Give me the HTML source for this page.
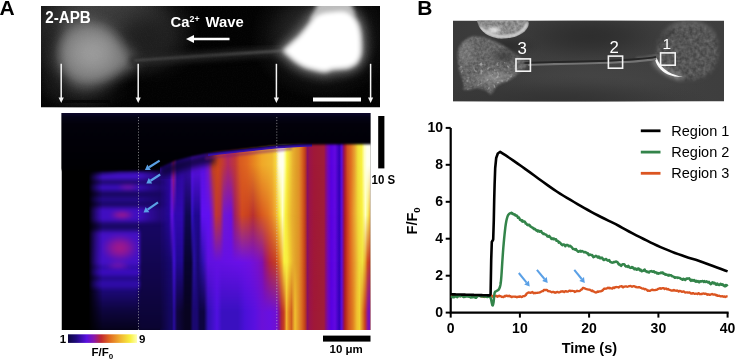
<!DOCTYPE html>
<html><head><meta charset="utf-8"><title>Figure</title>
<style>html,body{margin:0;padding:0;background:#fff;width:735px;height:359px;overflow:hidden;font-family:"Liberation Sans",sans-serif}svg{display:block}svg{will-change:transform}</style>
</head><body><svg width="735" height="359" viewBox="0 0 735 359"><defs><linearGradient id="r1" gradientUnits="userSpaceOnUse" x1="160" y1="0" x2="370.5" y2="0"><stop offset="0.0000" stop-color="#5010d0"/><stop offset="0.0143" stop-color="#3008a0"/><stop offset="0.0475" stop-color="#3008a0"/><stop offset="0.0570" stop-color="#8018a0"/><stop offset="0.0641" stop-color="#a01870"/><stop offset="0.0713" stop-color="#8018a0"/><stop offset="0.0808" stop-color="#2a0890"/><stop offset="0.1425" stop-color="#3a0cb0"/><stop offset="0.1520" stop-color="#5a10e0"/><stop offset="0.2090" stop-color="#5a10e0"/><stop offset="0.2280" stop-color="#7a18c0"/><stop offset="0.2518" stop-color="#c04020"/><stop offset="0.2755" stop-color="#d04818"/><stop offset="0.2993" stop-color="#c03838"/><stop offset="0.3230" stop-color="#b02860"/><stop offset="0.3563" stop-color="#c03838"/><stop offset="0.3800" stop-color="#d85a20"/><stop offset="0.4133" stop-color="#e06820"/><stop offset="0.4513" stop-color="#e88a20"/><stop offset="0.4846" stop-color="#f0a828"/><stop offset="0.5321" stop-color="#f0b830"/><stop offset="0.5511" stop-color="#f8d840"/><stop offset="0.5606" stop-color="#fff8c0"/><stop offset="0.5701" stop-color="#fffff0"/><stop offset="0.5843" stop-color="#fffff0"/><stop offset="0.5938" stop-color="#ffffa0"/><stop offset="0.6033" stop-color="#f8f040"/><stop offset="0.6176" stop-color="#f0d038"/><stop offset="0.6318" stop-color="#e8b030"/><stop offset="0.6461" stop-color="#e0a028"/><stop offset="0.6603" stop-color="#e09028"/><stop offset="0.6746" stop-color="#d86820"/><stop offset="0.6888" stop-color="#c04018"/><stop offset="0.7007" stop-color="#8a1060"/><stop offset="0.7126" stop-color="#9a1448"/><stop offset="0.7316" stop-color="#a01838"/><stop offset="0.7601" stop-color="#a01c34"/><stop offset="0.7791" stop-color="#a01c3c"/><stop offset="0.7862" stop-color="#8a1070"/><stop offset="0.7981" stop-color="#7008b8"/><stop offset="0.8124" stop-color="#5800e0"/><stop offset="0.8314" stop-color="#6208e0"/><stop offset="0.8518" stop-color="#3400b8"/><stop offset="0.8637" stop-color="#6010d8"/><stop offset="0.8717" stop-color="#8a1070"/><stop offset="0.8789" stop-color="#b02030"/><stop offset="0.8907" stop-color="#d05020"/><stop offset="0.9074" stop-color="#e07020"/><stop offset="0.9240" stop-color="#e8a030"/><stop offset="0.9406" stop-color="#f0e038"/><stop offset="0.9572" stop-color="#f8f040"/><stop offset="0.9715" stop-color="#ffffc0"/><stop offset="0.9834" stop-color="#fffff0"/><stop offset="1.0000" stop-color="#fffff0"/></linearGradient><radialGradient id="g44"><stop offset="0" stop-color="#444" stop-opacity="1.000"/><stop offset="0.2" stop-color="#444" stop-opacity="0.920"/><stop offset="0.4" stop-color="#444" stop-opacity="0.720"/><stop offset="0.6" stop-color="#444" stop-opacity="0.440"/><stop offset="0.8" stop-color="#444" stop-opacity="0.160"/><stop offset="1" stop-color="#444" stop-opacity="0.000"/></radialGradient><radialGradient id="g3a"><stop offset="0" stop-color="#3a3a3a" stop-opacity="1.000"/><stop offset="0.2" stop-color="#3a3a3a" stop-opacity="0.920"/><stop offset="0.4" stop-color="#3a3a3a" stop-opacity="0.720"/><stop offset="0.6" stop-color="#3a3a3a" stop-opacity="0.440"/><stop offset="0.8" stop-color="#3a3a3a" stop-opacity="0.160"/><stop offset="1" stop-color="#3a3a3a" stop-opacity="0.000"/></radialGradient><radialGradient id="g1e"><stop offset="0" stop-color="#1e1e1e" stop-opacity="1.000"/><stop offset="0.2" stop-color="#1e1e1e" stop-opacity="0.920"/><stop offset="0.4" stop-color="#1e1e1e" stop-opacity="0.720"/><stop offset="0.6" stop-color="#1e1e1e" stop-opacity="0.440"/><stop offset="0.8" stop-color="#1e1e1e" stop-opacity="0.160"/><stop offset="1" stop-color="#1e1e1e" stop-opacity="0.000"/></radialGradient><radialGradient id="g20"><stop offset="0" stop-color="#202020" stop-opacity="1.000"/><stop offset="0.2" stop-color="#202020" stop-opacity="0.920"/><stop offset="0.4" stop-color="#202020" stop-opacity="0.720"/><stop offset="0.6" stop-color="#202020" stop-opacity="0.440"/><stop offset="0.8" stop-color="#202020" stop-opacity="0.160"/><stop offset="1" stop-color="#202020" stop-opacity="0.000"/></radialGradient><radialGradient id="g38"><stop offset="0" stop-color="#383838" stop-opacity="1.000"/><stop offset="0.2" stop-color="#383838" stop-opacity="0.920"/><stop offset="0.4" stop-color="#383838" stop-opacity="0.720"/><stop offset="0.6" stop-color="#383838" stop-opacity="0.440"/><stop offset="0.8" stop-color="#383838" stop-opacity="0.160"/><stop offset="1" stop-color="#383838" stop-opacity="0.000"/></radialGradient><radialGradient id="g8e"><stop offset="0" stop-color="#8e8e8e" stop-opacity="1.000"/><stop offset="0.2" stop-color="#8e8e8e" stop-opacity="0.920"/><stop offset="0.4" stop-color="#8e8e8e" stop-opacity="0.720"/><stop offset="0.6" stop-color="#8e8e8e" stop-opacity="0.440"/><stop offset="0.8" stop-color="#8e8e8e" stop-opacity="0.160"/><stop offset="1" stop-color="#8e8e8e" stop-opacity="0.000"/></radialGradient><radialGradient id="g44b"><stop offset="0" stop-color="#444" stop-opacity="1.000"/><stop offset="0.2" stop-color="#444" stop-opacity="0.920"/><stop offset="0.4" stop-color="#444" stop-opacity="0.720"/><stop offset="0.6" stop-color="#444" stop-opacity="0.440"/><stop offset="0.8" stop-color="#444" stop-opacity="0.160"/><stop offset="1" stop-color="#444" stop-opacity="0.000"/></radialGradient><radialGradient id="gmag"><stop offset="0" stop-color="#a0188a" stop-opacity="1.000"/><stop offset="0.2" stop-color="#a0188a" stop-opacity="0.920"/><stop offset="0.4" stop-color="#a0188a" stop-opacity="0.720"/><stop offset="0.6" stop-color="#a0188a" stop-opacity="0.440"/><stop offset="0.8" stop-color="#a0188a" stop-opacity="0.160"/><stop offset="1" stop-color="#a0188a" stop-opacity="0.000"/></radialGradient><radialGradient id="g9a"><stop offset="0" stop-color="#9a9a9a" stop-opacity="1.000"/><stop offset="0.2" stop-color="#9a9a9a" stop-opacity="0.920"/><stop offset="0.4" stop-color="#9a9a9a" stop-opacity="0.720"/><stop offset="0.6" stop-color="#9a9a9a" stop-opacity="0.440"/><stop offset="0.8" stop-color="#9a9a9a" stop-opacity="0.160"/><stop offset="1" stop-color="#9a9a9a" stop-opacity="0.000"/></radialGradient><radialGradient id="gb0"><stop offset="0" stop-color="#b0b0b0" stop-opacity="1.000"/><stop offset="0.2" stop-color="#b0b0b0" stop-opacity="0.920"/><stop offset="0.4" stop-color="#b0b0b0" stop-opacity="0.720"/><stop offset="0.6" stop-color="#b0b0b0" stop-opacity="0.440"/><stop offset="0.8" stop-color="#b0b0b0" stop-opacity="0.160"/><stop offset="1" stop-color="#b0b0b0" stop-opacity="0.000"/></radialGradient><radialGradient id="g4e"><stop offset="0" stop-color="#4e4e4e" stop-opacity="1.000"/><stop offset="0.2" stop-color="#4e4e4e" stop-opacity="0.920"/><stop offset="0.4" stop-color="#4e4e4e" stop-opacity="0.720"/><stop offset="0.6" stop-color="#4e4e4e" stop-opacity="0.440"/><stop offset="0.8" stop-color="#4e4e4e" stop-opacity="0.160"/><stop offset="1" stop-color="#4e4e4e" stop-opacity="0.000"/></radialGradient><radialGradient id="g37"><stop offset="0" stop-color="#373737" stop-opacity="1.000"/><stop offset="0.2" stop-color="#373737" stop-opacity="0.920"/><stop offset="0.4" stop-color="#373737" stop-opacity="0.720"/><stop offset="0.6" stop-color="#373737" stop-opacity="0.440"/><stop offset="0.8" stop-color="#373737" stop-opacity="0.160"/><stop offset="1" stop-color="#373737" stop-opacity="0.000"/></radialGradient><radialGradient id="g33"><stop offset="0" stop-color="#333" stop-opacity="1.000"/><stop offset="0.2" stop-color="#333" stop-opacity="0.920"/><stop offset="0.4" stop-color="#333" stop-opacity="0.720"/><stop offset="0.6" stop-color="#333" stop-opacity="0.440"/><stop offset="0.8" stop-color="#333" stop-opacity="0.160"/><stop offset="1" stop-color="#333" stop-opacity="0.000"/></radialGradient><radialGradient id="g2e"><stop offset="0" stop-color="#2e2e2e" stop-opacity="1.000"/><stop offset="0.2" stop-color="#2e2e2e" stop-opacity="0.920"/><stop offset="0.4" stop-color="#2e2e2e" stop-opacity="0.720"/><stop offset="0.6" stop-color="#2e2e2e" stop-opacity="0.440"/><stop offset="0.8" stop-color="#2e2e2e" stop-opacity="0.160"/><stop offset="1" stop-color="#2e2e2e" stop-opacity="0.000"/></radialGradient><radialGradient id="gfff"><stop offset="0" stop-color="#fff" stop-opacity="1.000"/><stop offset="0.2" stop-color="#fff" stop-opacity="0.920"/><stop offset="0.4" stop-color="#fff" stop-opacity="0.720"/><stop offset="0.6" stop-color="#fff" stop-opacity="0.440"/><stop offset="0.8" stop-color="#fff" stop-opacity="0.160"/><stop offset="1" stop-color="#fff" stop-opacity="0.000"/></radialGradient><radialGradient id="g55"><stop offset="0" stop-color="#555" stop-opacity="1.000"/><stop offset="0.2" stop-color="#555" stop-opacity="0.920"/><stop offset="0.4" stop-color="#555" stop-opacity="0.720"/><stop offset="0.6" stop-color="#555" stop-opacity="0.440"/><stop offset="0.8" stop-color="#555" stop-opacity="0.160"/><stop offset="1" stop-color="#555" stop-opacity="0.000"/></radialGradient><linearGradient id="r2" gradientUnits="userSpaceOnUse" x1="160" y1="0" x2="370.5" y2="0"><stop offset="0.0000" stop-color="#4a10d0"/><stop offset="0.0143" stop-color="#2808a0"/><stop offset="0.0428" stop-color="#2808a0"/><stop offset="0.0570" stop-color="#6010e0"/><stop offset="0.0713" stop-color="#3008b0"/><stop offset="0.1045" stop-color="#3008b0"/><stop offset="0.1235" stop-color="#100850"/><stop offset="0.1425" stop-color="#100850"/><stop offset="0.1520" stop-color="#3010c0"/><stop offset="0.1663" stop-color="#200890"/><stop offset="0.1853" stop-color="#200890"/><stop offset="0.1995" stop-color="#6010f0"/><stop offset="0.2328" stop-color="#6010f0"/><stop offset="0.2470" stop-color="#8018c0"/><stop offset="0.2660" stop-color="#c03830"/><stop offset="0.2850" stop-color="#b83040"/><stop offset="0.3040" stop-color="#7018d0"/><stop offset="0.3373" stop-color="#6a10e0"/><stop offset="0.3563" stop-color="#a02060"/><stop offset="0.3895" stop-color="#d04820"/><stop offset="0.4181" stop-color="#c84020"/><stop offset="0.4418" stop-color="#b83030"/><stop offset="0.4656" stop-color="#c84820"/><stop offset="0.4846" stop-color="#d85820"/><stop offset="0.5131" stop-color="#e07020"/><stop offset="0.5321" stop-color="#e88828"/><stop offset="0.5511" stop-color="#f0b030"/><stop offset="0.5677" stop-color="#f8f040"/><stop offset="0.5819" stop-color="#ffffc0"/><stop offset="0.5962" stop-color="#f8f040"/><stop offset="0.6105" stop-color="#f0d030"/><stop offset="0.6271" stop-color="#e8b030"/><stop offset="0.6461" stop-color="#e0a028"/><stop offset="0.6603" stop-color="#e09028"/><stop offset="0.6746" stop-color="#d86820"/><stop offset="0.6888" stop-color="#c04018"/><stop offset="0.7007" stop-color="#8a1060"/><stop offset="0.7126" stop-color="#9a1448"/><stop offset="0.7316" stop-color="#a01838"/><stop offset="0.7601" stop-color="#a01c34"/><stop offset="0.7791" stop-color="#a01c3c"/><stop offset="0.7862" stop-color="#8a1070"/><stop offset="0.7981" stop-color="#7008b8"/><stop offset="0.8124" stop-color="#5800e0"/><stop offset="0.8314" stop-color="#6208e0"/><stop offset="0.8518" stop-color="#3400b8"/><stop offset="0.8637" stop-color="#6010d8"/><stop offset="0.8717" stop-color="#8a1070"/><stop offset="0.8789" stop-color="#b02020"/><stop offset="0.8907" stop-color="#d04020"/><stop offset="0.9050" stop-color="#e07020"/><stop offset="0.9216" stop-color="#e8a030"/><stop offset="0.9406" stop-color="#f0d838"/><stop offset="0.9596" stop-color="#f8f040"/><stop offset="0.9762" stop-color="#ffffc0"/><stop offset="0.9881" stop-color="#f8f060"/><stop offset="1.0000" stop-color="#e8a030"/></linearGradient><linearGradient id="r3" gradientUnits="userSpaceOnUse" x1="160" y1="0" x2="370.5" y2="0"><stop offset="0.0000" stop-color="#2a0aa0"/><stop offset="0.0143" stop-color="#180870"/><stop offset="0.0523" stop-color="#180870"/><stop offset="0.0665" stop-color="#4010d0"/><stop offset="0.0808" stop-color="#200890"/><stop offset="0.1045" stop-color="#200890"/><stop offset="0.1188" stop-color="#080430"/><stop offset="0.1473" stop-color="#080430"/><stop offset="0.1615" stop-color="#2810a0"/><stop offset="0.1805" stop-color="#180870"/><stop offset="0.2043" stop-color="#3010b0"/><stop offset="0.2280" stop-color="#6010e0"/><stop offset="0.3800" stop-color="#6a10e8"/><stop offset="0.4276" stop-color="#7010e0"/><stop offset="0.4656" stop-color="#7a10c8"/><stop offset="0.4846" stop-color="#8010b0"/><stop offset="0.4988" stop-color="#9a1478"/><stop offset="0.5226" stop-color="#b82838"/><stop offset="0.5511" stop-color="#c84020"/><stop offset="0.5653" stop-color="#e07020"/><stop offset="0.5796" stop-color="#f0b030"/><stop offset="0.5891" stop-color="#f8f040"/><stop offset="0.6033" stop-color="#f8f040"/><stop offset="0.6176" stop-color="#f0d030"/><stop offset="0.6318" stop-color="#e8b030"/><stop offset="0.6461" stop-color="#e0a028"/><stop offset="0.6603" stop-color="#e09028"/><stop offset="0.6746" stop-color="#d86820"/><stop offset="0.6888" stop-color="#c04018"/><stop offset="0.7007" stop-color="#8a1060"/><stop offset="0.7126" stop-color="#9a1448"/><stop offset="0.7316" stop-color="#a01838"/><stop offset="0.7601" stop-color="#a01c34"/><stop offset="0.7791" stop-color="#a01c3c"/><stop offset="0.7862" stop-color="#8a1070"/><stop offset="0.7981" stop-color="#7008b8"/><stop offset="0.8124" stop-color="#5800e0"/><stop offset="0.8314" stop-color="#6208e0"/><stop offset="0.8518" stop-color="#3400b8"/><stop offset="0.8637" stop-color="#6010d8"/><stop offset="0.8717" stop-color="#8a1070"/><stop offset="0.8789" stop-color="#b02020"/><stop offset="0.8907" stop-color="#d04020"/><stop offset="0.9074" stop-color="#e07020"/><stop offset="0.9264" stop-color="#e8a030"/><stop offset="0.9454" stop-color="#f0d838"/><stop offset="0.9620" stop-color="#f0e040"/><stop offset="0.9739" stop-color="#e8b030"/><stop offset="0.9857" stop-color="#d05020"/><stop offset="1.0000" stop-color="#b02838"/></linearGradient><linearGradient id="r4" gradientUnits="userSpaceOnUse" x1="160" y1="0" x2="370.5" y2="0"><stop offset="0.0000" stop-color="#140860"/><stop offset="0.0570" stop-color="#140860"/><stop offset="0.0665" stop-color="#2a0ca0"/><stop offset="0.0808" stop-color="#100640"/><stop offset="0.1188" stop-color="#080320"/><stop offset="0.1425" stop-color="#080320"/><stop offset="0.1568" stop-color="#1a0870"/><stop offset="0.1758" stop-color="#1a0870"/><stop offset="0.1900" stop-color="#0c0440"/><stop offset="0.2090" stop-color="#0c0440"/><stop offset="0.2280" stop-color="#3010b0"/><stop offset="0.2708" stop-color="#5010e0"/><stop offset="0.2945" stop-color="#3a10c0"/><stop offset="0.3705" stop-color="#3a10c0"/><stop offset="0.4038" stop-color="#4a10d8"/><stop offset="0.4513" stop-color="#5a10e0"/><stop offset="0.4846" stop-color="#6a10d8"/><stop offset="0.5226" stop-color="#6810e0"/><stop offset="0.5558" stop-color="#7010d0"/><stop offset="0.5653" stop-color="#8a1090"/><stop offset="0.5772" stop-color="#b02838"/><stop offset="0.5891" stop-color="#c84020"/><stop offset="0.6010" stop-color="#f0b030"/><stop offset="0.6128" stop-color="#e08020"/><stop offset="0.6247" stop-color="#d06020"/><stop offset="0.6413" stop-color="#f0c030"/><stop offset="0.6603" stop-color="#e09028"/><stop offset="0.6746" stop-color="#d86820"/><stop offset="0.6888" stop-color="#c04018"/><stop offset="0.7007" stop-color="#8a1060"/><stop offset="0.7126" stop-color="#9a1448"/><stop offset="0.7316" stop-color="#a01838"/><stop offset="0.7601" stop-color="#a01c34"/><stop offset="0.7791" stop-color="#a01c3c"/><stop offset="0.7862" stop-color="#8a1070"/><stop offset="0.7981" stop-color="#7008b8"/><stop offset="0.8124" stop-color="#5800e0"/><stop offset="0.8314" stop-color="#6208e0"/><stop offset="0.8518" stop-color="#3400b8"/><stop offset="0.8637" stop-color="#6010d8"/><stop offset="0.8717" stop-color="#8a1070"/><stop offset="0.8789" stop-color="#b02020"/><stop offset="0.8955" stop-color="#d05020"/><stop offset="0.9169" stop-color="#e08020"/><stop offset="0.9359" stop-color="#f0c030"/><stop offset="0.9477" stop-color="#f0d030"/><stop offset="0.9596" stop-color="#e09028"/><stop offset="0.9739" stop-color="#c84020"/><stop offset="0.9881" stop-color="#8010b0"/><stop offset="1.0000" stop-color="#7010c0"/></linearGradient><linearGradient id="m2g" gradientUnits="userSpaceOnUse" x1="0" y1="165" x2="0" y2="215"><stop offset="0" stop-color="#000"/><stop offset="1" stop-color="#fff"/></linearGradient><mask id="m2" maskUnits="userSpaceOnUse" x="0" y="0" width="735" height="359"><rect x="0" y="0" width="735" height="359" fill="url(#m2g)"/></mask><linearGradient id="m3g" gradientUnits="userSpaceOnUse" x1="0" y1="215" x2="0" y2="262"><stop offset="0" stop-color="#000"/><stop offset="1" stop-color="#fff"/></linearGradient><mask id="m3" maskUnits="userSpaceOnUse" x="0" y="0" width="735" height="359"><rect x="0" y="0" width="735" height="359" fill="url(#m3g)"/></mask><linearGradient id="m4g" gradientUnits="userSpaceOnUse" x1="0" y1="262" x2="0" y2="312"><stop offset="0" stop-color="#000"/><stop offset="1" stop-color="#fff"/></linearGradient><mask id="m4" maskUnits="userSpaceOnUse" x="0" y="0" width="735" height="359"><rect x="0" y="0" width="735" height="359" fill="url(#m4g)"/></mask><filter id="b1" color-interpolation-filters="sRGB" x="-20%" y="-20%" width="140%" height="140%"><feGaussianBlur stdDeviation="1"/></filter><filter id="b2" color-interpolation-filters="sRGB" x="-30%" y="-30%" width="160%" height="160%"><feGaussianBlur stdDeviation="2"/></filter><filter id="b3" color-interpolation-filters="sRGB" x="-50%" y="-50%" width="200%" height="200%"><feGaussianBlur stdDeviation="3"/></filter><filter id="b5" color-interpolation-filters="sRGB" x="-80%" y="-80%" width="260%" height="260%"><feGaussianBlur stdDeviation="5"/></filter><filter id="b8" color-interpolation-filters="sRGB" x="-100%" y="-100%" width="300%" height="300%"><feGaussianBlur stdDeviation="8"/></filter><filter id="b12" color-interpolation-filters="sRGB" x="-150%" y="-150%" width="400%" height="400%"><feGaussianBlur stdDeviation="12"/></filter><filter id="b05" color-interpolation-filters="sRGB" x="-20%" y="-20%" width="140%" height="140%"><feGaussianBlur stdDeviation="0.5"/></filter><filter id="bl" color-interpolation-filters="sRGB" x="-20%" y="-20%" width="140%" height="140%"><feGaussianBlur stdDeviation="1.5 2.2"/></filter><linearGradient id="lmg" gradientUnits="userSpaceOnUse" x1="93" y1="0" x2="106" y2="0"><stop offset="0" stop-color="#000"/><stop offset="1" stop-color="#fff"/></linearGradient><mask id="lmask" maskUnits="userSpaceOnUse" x="0" y="0" width="735" height="359"><rect x="0" y="0" width="735" height="359" fill="url(#lmg)"/></mask><filter id="grain" x="0" y="0" width="100%" height="100%" color-interpolation-filters="sRGB"><feTurbulence type="fractalNoise" baseFrequency="0.8" numOctaves="1" seed="4"/><feColorMatrix type="matrix" values="0 0 0 0 1  0 0 0 0 1  0 0 0 0 1  1 0 0 0 -0.3"/></filter><linearGradient id="lmgA" gradientUnits="userSpaceOnUse" x1="86" y1="0" x2="170" y2="0"><stop offset="0.03" stop-color="#000"/><stop offset="0.1" stop-color="#666"/><stop offset="0.2" stop-color="#fff"/><stop offset="0.88" stop-color="#fff"/><stop offset="1" stop-color="#000"/></linearGradient><mask id="lmaskA" maskUnits="userSpaceOnUse" x="0" y="0" width="735" height="359"><rect x="0" y="0" width="735" height="359" fill="url(#lmgA)"/></mask><linearGradient id="lmgB" gradientUnits="userSpaceOnUse" x1="86" y1="0" x2="170" y2="0"><stop offset="0.03" stop-color="#000"/><stop offset="0.1" stop-color="#666"/><stop offset="0.2" stop-color="#fff"/><stop offset="0.62" stop-color="#fff"/><stop offset="0.75" stop-color="#999"/><stop offset="1" stop-color="#000"/></linearGradient><mask id="lmaskB" maskUnits="userSpaceOnUse" x="0" y="0" width="735" height="359"><rect x="0" y="0" width="735" height="359" fill="url(#lmgB)"/></mask><linearGradient id="lbase" gradientUnits="userSpaceOnUse" x1="0" y1="171" x2="0" y2="332"><stop offset="0" stop-color="#160658"/><stop offset="0.37" stop-color="#1a0868"/><stop offset="0.58" stop-color="#240a90"/><stop offset="0.74" stop-color="#1c0878"/><stop offset="0.86" stop-color="#0e0540"/><stop offset="1" stop-color="#050218"/></linearGradient><linearGradient id="lbase2" gradientUnits="userSpaceOnUse" x1="0" y1="171" x2="0" y2="332"><stop offset="0" stop-color="#180660"/><stop offset="0.37" stop-color="#160660"/><stop offset="1" stop-color="#0a0430"/></linearGradient><linearGradient id="dbg" x1="0" y1="0" x2="1" y2="0"><stop offset="0" stop-color="#3a3a3a"/><stop offset="0.5" stop-color="#424242"/><stop offset="1" stop-color="#3e3e3e"/></linearGradient><filter id="tex" x="0" y="0" width="100%" height="100%" color-interpolation-filters="sRGB"><feTurbulence type="fractalNoise" baseFrequency="0.35" numOctaves="2" seed="7"/><feColorMatrix type="matrix" values="1.2 0 0 0 -0.22  1.2 0 0 0 -0.22  1.2 0 0 0 -0.22  0 0 0 0 1"/></filter><filter id="tex2" x="0" y="0" width="100%" height="100%" color-interpolation-filters="sRGB"><feTurbulence type="fractalNoise" baseFrequency="0.28" numOctaves="2" seed="13"/><feColorMatrix type="matrix" values="1.1 0 0 0 -0.27  1.1 0 0 0 -0.27  1.1 0 0 0 -0.27  0 0 0 0 1"/></filter><linearGradient id="ktop" gradientUnits="userSpaceOnUse" x1="0" y1="113" x2="0" y2="170"><stop offset="0" stop-color="#0e0830"/><stop offset="0.06" stop-color="#050416"/><stop offset="0.2" stop-color="#02010a"/><stop offset="1" stop-color="#000003"/></linearGradient><radialGradient id="gmag2"><stop offset="0" stop-color="#8a18a0" stop-opacity="0.800"/><stop offset="0.2" stop-color="#8a18a0" stop-opacity="0.736"/><stop offset="0.4" stop-color="#8a18a0" stop-opacity="0.576"/><stop offset="0.6" stop-color="#8a18a0" stop-opacity="0.352"/><stop offset="0.8" stop-color="#8a18a0" stop-opacity="0.128"/><stop offset="1" stop-color="#8a18a0" stop-opacity="0.000"/></radialGradient><linearGradient id="procg" gradientUnits="userSpaceOnUse" x1="134" y1="0" x2="287" y2="0"><stop offset="0" stop-color="#4a4a4a"/><stop offset="0.5" stop-color="#404040"/><stop offset="0.85" stop-color="#555"/><stop offset="1" stop-color="#7a7a7a"/></linearGradient><filter id="b5b" color-interpolation-filters="sRGB" x="-80%" y="-80%" width="260%" height="260%"><feGaussianBlur stdDeviation="6.5"/></filter><filter id="spots" x="0" y="0" width="100%" height="100%" color-interpolation-filters="sRGB"><feTurbulence type="fractalNoise" baseFrequency="0.3" numOctaves="1" seed="21"/><feColorMatrix type="matrix" values="0 0 0 0 1  0 0 0 0 1  0 0 0 0 1  6 0 0 0 -3.6"/></filter><clipPath id="kclip"><rect x="61.5" y="113" width="309" height="217"/></clipPath><clipPath id="fclip"><rect x="41" y="6" width="339" height="101.5"/></clipPath><clipPath id="dclip"><rect x="453" y="20.5" width="271" height="81"/></clipPath><linearGradient id="cbar" x1="0" y1="0" x2="1" y2="0"><stop offset="0" stop-color="#0c0640"/><stop offset="0.12" stop-color="#200a80"/><stop offset="0.27" stop-color="#5a10e0"/><stop offset="0.38" stop-color="#8a18a8"/><stop offset="0.48" stop-color="#c02830"/><stop offset="0.6" stop-color="#e06820"/><stop offset="0.75" stop-color="#f0b030"/><stop offset="0.9" stop-color="#f8f040"/><stop offset="1" stop-color="#ffffb0"/></linearGradient></defs><text x="-0.6" y="14.8" font-family="Liberation Sans, sans-serif" font-weight="bold" font-size="21" fill="#000">A</text><text x="417.3" y="14.8" font-family="Liberation Sans, sans-serif" font-weight="bold" font-size="21" fill="#000">B</text><g clip-path="url(#fclip)"><rect x="41" y="6" width="339" height="101.5" fill="#020202"/><ellipse cx="104" cy="26" rx="95" ry="60" fill="url(#g55)"/><ellipse cx="140" cy="34" rx="40" ry="30" fill="url(#g2e)"/><ellipse cx="118" cy="14" rx="50" ry="24" fill="url(#g3a)"/><ellipse cx="150" cy="40" rx="50" ry="44" fill="url(#g1e)"/><ellipse cx="80" cy="88" rx="50" ry="28" fill="url(#g20)"/><ellipse cx="52" cy="55" rx="22" ry="45" fill="url(#g20)"/><path d="M58,56 C57,40 66,27 80,23.5 C92,21 103,27 112,35 C121,43 129,53 137,61.2 C130,67 122,73 114,78 C104,84 93,88 81,86.5 C67,84 58,71 58,56 Z" fill="#767676" filter="url(#b5b)"/><ellipse cx="92" cy="53" rx="38" ry="33" fill="url(#g9a)"/><path d="M130,61 L200,56.5 L287,50.5" stroke="#262626" stroke-width="8" fill="none" filter="url(#b3)"/><path d="M134,60.5 L200,56 L287,50.5" stroke="url(#procg)" stroke-width="1.8" fill="none" filter="url(#b1)"/><ellipse cx="322" cy="38" rx="72" ry="62" fill="url(#g38)"/><path d="M284.5,50.8 C289,46 294,42 299,37.4 C304,32 309,26 313.5,19 C317,15 322,13 328,12.5 C333,12 338,11.5 343.5,11.5 C347,12 350,14 352.4,16.5 C355,20 357,23 358,26.3 C359.5,31 360,35 360.2,39.6 C360.5,44 360.5,49 360.2,53 C359.5,57 358,60 355.7,63 C352,65.5 349,67 345.7,67.5 C341,68 337,68.2 332.4,68.6 C330,69.2 328,70.5 325.7,70.8 C323,70.8 320.5,70.2 317.9,69.7 C313.5,68.8 309.5,67.8 305.6,66.4 C301.5,64.5 298,62.5 294.5,59.7 C291,57 288,54 284.5,50.8 Z" fill="#6a6a6a" stroke="#6a6a6a" stroke-width="12" stroke-linejoin="round" filter="url(#b5)"/><path d="M284.5,50.8 C289,46 294,42 299,37.4 C304,32 309,26 313.5,19 C317,15 322,13 328,12.5 C333,12 338,11.5 343.5,11.5 C347,12 350,14 352.4,16.5 C355,20 357,23 358,26.3 C359.5,31 360,35 360.2,39.6 C360.5,44 360.5,49 360.2,53 C359.5,57 358,60 355.7,63 C352,65.5 349,67 345.7,67.5 C341,68 337,68.2 332.4,68.6 C330,69.2 328,70.5 325.7,70.8 C323,70.8 320.5,70.2 317.9,69.7 C313.5,68.8 309.5,67.8 305.6,66.4 C301.5,64.5 298,62.5 294.5,59.7 C291,57 288,54 284.5,50.8 Z" fill="#b0b0b0" stroke="#b0b0b0" stroke-width="4" stroke-linejoin="round" filter="url(#b2)"/><path d="M310,20 C314,12 317,6 318,2 L350,2 C352,6 354,10 355,16 Z" fill="#bdbdbd" filter="url(#b2)"/><path d="M284.5,50.8 C289,46 294,42 299,37.4 C304,32 309,26 313.5,19 C317,15 322,13 328,12.5 C333,12 338,11.5 343.5,11.5 C347,12 350,14 352.4,16.5 C355,20 357,23 358,26.3 C359.5,31 360,35 360.2,39.6 C360.5,44 360.5,49 360.2,53 C359.5,57 358,60 355.7,63 C352,65.5 349,67 345.7,67.5 C341,68 337,68.2 332.4,68.6 C330,69.2 328,70.5 325.7,70.8 C323,70.8 320.5,70.2 317.9,69.7 C313.5,68.8 309.5,67.8 305.6,66.4 C301.5,64.5 298,62.5 294.5,59.7 C291,57 288,54 284.5,50.8 Z" fill="#fff" filter="url(#b2)"/><rect x="60" y="100" width="50" height="3" fill="#000" opacity="0.6" filter="url(#b05)"/><rect x="41" y="6" width="339" height="101.5" filter="url(#grain)" opacity="0.045"/></g><text x="45.2" y="22.5" font-family="Liberation Sans, sans-serif" font-weight="bold" font-size="15.8" textLength="45.6" lengthAdjust="spacingAndGlyphs" fill="#fff">2-APB</text><text x="170.6" y="26.7" font-family="Liberation Sans, sans-serif" font-weight="bold" font-size="14.8" fill="#fff">Ca</text><text x="189.6" y="22.3" font-family="Liberation Sans, sans-serif" font-weight="bold" font-size="8.8" fill="#fff">2+</text><text x="205.6" y="26.7" font-family="Liberation Sans, sans-serif" font-weight="bold" font-size="14.8" fill="#fff">Wave</text><path d="M229.5,39 L192,39" stroke="#fff" stroke-width="2.6"/><path d="M186,39 L194,35 L194,43 Z" fill="#fff"/><path d="M61.2,63.8 L61.2,98" stroke="#f4f4f4" stroke-width="1.5"/><path d="M58.6,97.5 L63.800000000000004,97.5 L61.2,103 Z" fill="#f4f4f4"/><path d="M138.2,63.8 L138.2,98" stroke="#f4f4f4" stroke-width="1.5"/><path d="M135.6,97.5 L140.79999999999998,97.5 L138.2,103 Z" fill="#f4f4f4"/><path d="M276.4,63.8 L276.4,98" stroke="#f4f4f4" stroke-width="1.5"/><path d="M273.79999999999995,97.5 L279.0,97.5 L276.4,103 Z" fill="#f4f4f4"/><path d="M370.6,63.8 L370.6,98" stroke="#f4f4f4" stroke-width="1.5"/><path d="M368.0,97.5 L373.20000000000005,97.5 L370.6,103 Z" fill="#f4f4f4"/><rect x="313" y="97.5" width="48" height="4" fill="#fff"/><g clip-path="url(#kclip)"><rect x="61.5" y="113" width="309" height="217" fill="#000"/><rect x="160" y="140" width="210.5" height="190" fill="url(#r1)"/><rect x="160" y="160" width="210.5" height="170" fill="url(#r2)" mask="url(#m2)"/><rect x="160" y="210" width="210.5" height="120" fill="url(#r3)" mask="url(#m3)"/><rect x="160" y="258" width="210.5" height="72" fill="url(#r4)" mask="url(#m4)"/><g filter="url(#bl)" mask="url(#lmaskA)"><rect x="86" y="172" width="54" height="160" fill="url(#lbase)"/><rect x="138.5" y="172" width="32" height="160" fill="url(#lbase2)"/></g><g filter="url(#bl)" mask="url(#lmaskB)"><path d="M86,176 L120,172.5 L170,171.5 L170,180 L86,180 Z" fill="#4412c8"/><rect x="86" y="184" width="84" height="7" fill="#3a0eb8"/><ellipse cx="128" cy="187" rx="12" ry="3.5" fill="url(#gmag2)"/><rect x="86" y="197" width="84" height="5" fill="#260a8c"/><rect x="86" y="207" width="84" height="15" fill="#400ec0"/><ellipse cx="122" cy="215" rx="14" ry="5" fill="url(#gmag)"/><rect x="86" y="231" width="54" height="35" fill="#4410c4"/><ellipse cx="120" cy="248" rx="20" ry="15" fill="url(#gmag)"/><ellipse cx="118" cy="268" rx="14" ry="8" fill="url(#gmag2)"/><rect x="86" y="268" width="54" height="8" fill="#3a0cbc"/><rect x="86" y="280" width="54" height="8" fill="#300ca8"/></g><path d="M160,172 L175,167 L190,163 L205,159.5 L215,158" stroke="#0a0330" stroke-width="11" fill="none" opacity="0.85" filter="url(#b3)"/><path d="M205,158.5 L220,156.5 L250,153.2 L275,150.5 L292,148.6" stroke="#7a1878" stroke-width="3" fill="none" opacity="0.5" filter="url(#b1)"/><path d="M208,154.4 L220,152.9 L250,149.6 L276,146.9 L300,145.2 L312,144.9" stroke="#3a10b8" stroke-width="3.4" fill="none" filter="url(#b05)"/><path d="M55,100 L380,100 L380,144.3 L330,144.6 L300,144.8 L285,145.6 L270,146.6 L250,148.8 L220,152 L205,154 L190,157 L175,161 L165,165.5 L160,168 L140,169.5 L100,170 L55,170 Z" fill="url(#ktop)" filter="url(#b1)"/><path d="M138.5,117 L138.5,330" stroke="#d0d0d0" stroke-width="0.8" stroke-dasharray="1.2 1.7" opacity="0.7"/><path d="M276.8,117 L276.8,330" stroke="#d0d0d0" stroke-width="0.8" stroke-dasharray="1.2 1.7" opacity="0.7"/></g><path d="M159.6,160.6 L149.1,167.3" stroke="#5aa0e6" stroke-width="2.2"/><path d="M144.9,170.0 L147.4,164.6 L150.8,170.0 Z" fill="#5aa0e6"/><path d="M160.2,174.5 L150.5,180.7" stroke="#5aa0e6" stroke-width="2.2"/><path d="M146.3,183.4 L148.8,178.0 L152.2,183.4 Z" fill="#5aa0e6"/><path d="M158.0,202.3 L147.6,209.7" stroke="#5aa0e6" stroke-width="2.2"/><path d="M143.5,212.6 L145.7,207.1 L149.4,212.3 Z" fill="#5aa0e6"/><rect x="378.2" y="116" width="6.2" height="52.4" fill="#000"/><text x="371.6" y="183.8" font-family="Liberation Sans, sans-serif" font-weight="bold" font-size="12" textLength="23.6" lengthAdjust="spacingAndGlyphs" fill="#000">10 S</text><rect x="68" y="334.3" width="69" height="8.6" fill="url(#cbar)"/><text x="59.8" y="343.3" font-family="Liberation Sans, sans-serif" font-weight="bold" font-size="11.5" fill="#000">1</text><text x="139" y="343.3" font-family="Liberation Sans, sans-serif" font-weight="bold" font-size="11.5" fill="#000">9</text><text x="91.5" y="355.7" font-family="Liberation Sans, sans-serif" font-weight="bold" font-size="11.5" fill="#000">F/F<tspan font-size="8" dy="3">0</tspan></text><rect x="323" y="335.6" width="47.5" height="6" fill="#000"/><text x="329.5" y="353" font-family="Liberation Sans, sans-serif" font-weight="bold" font-size="11.5" fill="#000">10 μm</text><g clip-path="url(#dclip)"><rect x="453" y="20.5" width="271" height="81" fill="url(#dbg)"/><ellipse cx="590" cy="36" rx="90" ry="30" fill="url(#g2e)"/><ellipse cx="600" cy="82" rx="110" ry="22" fill="url(#g44)"/><ellipse cx="560" cy="102" rx="150" ry="26" fill="url(#g33)"/><ellipse cx="508" cy="46" rx="34" ry="12" fill="url(#g2e)"/><mask id="m3c" maskUnits="userSpaceOnUse" x="440" y="10" width="300" height="100"><path d="M458,60 C456,50 460,42 468,38 C474,35 480,36 486,38 C496,41 505,46 512.3,51.6 C518,56 523,60 530,63 C526,68 520,72 514.7,76.7 C508,81 503,83 498,85 C494,88 494,92 491,95 C487,91 483,88 476,88 C471,90 466,91 463,89 C465,85 463,80 461,76 C459,71 458,66 458,60 Z" fill="#fff" filter="url(#b1)"/></mask><g mask="url(#m3c)"><rect x="450" y="30" width="90" height="70" fill="#686868"/><rect x="450" y="30" width="90" height="70" filter="url(#tex)" opacity="0.2"/><ellipse cx="494" cy="78" rx="26" ry="10" fill="url(#gfff)" opacity="0.22"/><ellipse cx="466" cy="52" rx="12" ry="18" fill="url(#gfff)" opacity="0.12"/><ellipse cx="505" cy="56" rx="16" ry="10" fill="url(#g2e)" opacity="0.6"/><rect x="455" y="62" width="60" height="32" filter="url(#spots)" opacity="0.35"/></g><mask id="mtf" maskUnits="userSpaceOnUse" x="440" y="10" width="300" height="100"><path d="M477,20 C478,28 484,36 498,38.5 C512,39.5 524,35 528,27 C529,24 529,22 528,20 Z" fill="#fff" filter="url(#b05)"/></mask><g mask="url(#mtf)"><rect x="470" y="15" width="65" height="30" fill="#9a9a9a"/><rect x="470" y="15" width="65" height="30" filter="url(#tex)" opacity="0.25"/><path d="M480,27 C488,36 500,38 514,35.5 C521,33 526,28 527,23" stroke="#d4d4d4" stroke-width="3" fill="none" filter="url(#b1)"/><ellipse cx="494" cy="30" rx="10" ry="5" fill="url(#gfff)" opacity="0.7"/></g><mask id="m1c" maskUnits="userSpaceOnUse" x="440" y="10" width="300" height="100"><path d="M656,56 C656,40 664,28 676,23 C686,19 700,20 708,26 C716,32 719,42 718,54 C717,66 710,76 698,79 C688,81 676,79 668,75 C661,70 656,64 656,56 Z" fill="#fff" filter="url(#b2)"/></mask><g mask="url(#m1c)"><rect x="650" y="15" width="75" height="70" fill="#5a5a5a"/><rect x="650" y="15" width="75" height="70" filter="url(#tex2)" opacity="0.22"/><path d="M664,32 C670,24 680,21 694,21 C704,22 712,28 716,36" stroke="#6a6a6a" stroke-width="4" fill="none" filter="url(#b2)"/><path d="M660,46 C662,38 667,33 674,30" stroke="#333" stroke-width="3" fill="none" filter="url(#b2)"/></g><path d="M654,60 C658,68 666,74 682,78" stroke="#c8c8c8" stroke-width="6" fill="none" filter="url(#b2)" opacity="0.4"/><path d="M654.5,57 C655.5,64 660,71 668,74.6 C673,76.6 678,77.2 683,77 C678,76 673,74.6 668.5,72 C662.5,68.5 658.5,63.5 656.5,57.5 Z" fill="#fafafa" filter="url(#b05)"/><path d="M524,62.5 C534,63.5 542,63.4 552,63" stroke="#262626" stroke-width="4.5" fill="none" filter="url(#b1)"/><path d="M636,59.5 C645,59 650,58 658,55" stroke="#5a5a5a" stroke-width="5" fill="none" filter="url(#b1)"/><path d="M528,64.8 C545,64.2 560,63.8 600,63 C625,62.1 645,61.1 656,58.8" stroke="#747474" stroke-width="2.2" fill="none" filter="url(#b05)"/><path d="M528,62.8 C545,62.2 560,61.8 600,61 C625,60.1 645,59.1 656,56.8" stroke="#262626" stroke-width="1.8" fill="none" filter="url(#b05)"/></g><rect x="516" y="58.9" width="14.4" height="12.3" fill="none" stroke="#f4f4f4" stroke-width="1.6"/><rect x="608.4" y="56.1" width="14.2" height="12.1" fill="none" stroke="#f4f4f4" stroke-width="1.6"/><rect x="660.6" y="52.9" width="14.6" height="12.3" fill="none" stroke="#f4f4f4" stroke-width="1.6"/><text x="517.6" y="54.2" font-family="Liberation Sans, sans-serif" font-size="16.8" fill="#fff">3</text><text x="609.6" y="53.4" font-family="Liberation Sans, sans-serif" font-size="16.8" fill="#fff">2</text><text x="662.6" y="48.9" font-family="Liberation Sans, sans-serif" font-size="15.5" fill="#fff">1</text><path d="M450.7,127.9 L450.7,312.6 L728.6,312.6" stroke="#000" stroke-width="2.2" fill="none"/><path d="M445.7,312.6 L450.7,312.6" stroke="#000" stroke-width="2"/><text x="443.09999999999997" y="316.7" font-family="Liberation Sans, sans-serif" font-weight="bold" font-size="14" text-anchor="end" fill="#000">0</text><path d="M445.7,275.7 L450.7,275.7" stroke="#000" stroke-width="2"/><text x="443.09999999999997" y="279.8" font-family="Liberation Sans, sans-serif" font-weight="bold" font-size="14" text-anchor="end" fill="#000">2</text><path d="M445.7,238.7 L450.7,238.7" stroke="#000" stroke-width="2"/><text x="443.09999999999997" y="242.8" font-family="Liberation Sans, sans-serif" font-weight="bold" font-size="14" text-anchor="end" fill="#000">4</text><path d="M445.7,201.8 L450.7,201.8" stroke="#000" stroke-width="2"/><text x="443.09999999999997" y="205.9" font-family="Liberation Sans, sans-serif" font-weight="bold" font-size="14" text-anchor="end" fill="#000">6</text><path d="M445.7,164.8 L450.7,164.8" stroke="#000" stroke-width="2"/><text x="443.09999999999997" y="168.9" font-family="Liberation Sans, sans-serif" font-weight="bold" font-size="14" text-anchor="end" fill="#000">8</text><path d="M445.7,127.9 L450.7,127.9" stroke="#000" stroke-width="2"/><text x="443.09999999999997" y="132.0" font-family="Liberation Sans, sans-serif" font-weight="bold" font-size="14" text-anchor="end" fill="#000">10</text><path d="M450.7,312.6 L450.7,317.6" stroke="#000" stroke-width="2"/><text x="450.7" y="333.4" font-family="Liberation Sans, sans-serif" font-weight="bold" font-size="14" text-anchor="middle" fill="#000">0</text><path d="M519.9,312.6 L519.9,317.6" stroke="#000" stroke-width="2"/><text x="519.9" y="333.4" font-family="Liberation Sans, sans-serif" font-weight="bold" font-size="14" text-anchor="middle" fill="#000">10</text><path d="M589.1,312.6 L589.1,317.6" stroke="#000" stroke-width="2"/><text x="589.1" y="333.4" font-family="Liberation Sans, sans-serif" font-weight="bold" font-size="14" text-anchor="middle" fill="#000">20</text><path d="M658.4,312.6 L658.4,317.6" stroke="#000" stroke-width="2"/><text x="658.4" y="333.4" font-family="Liberation Sans, sans-serif" font-weight="bold" font-size="14" text-anchor="middle" fill="#000">30</text><path d="M727.6,312.6 L727.6,317.6" stroke="#000" stroke-width="2"/><text x="727.6" y="333.4" font-family="Liberation Sans, sans-serif" font-weight="bold" font-size="14" text-anchor="middle" fill="#000">40</text><text x="561.7" y="352.8" font-family="Liberation Sans, sans-serif" font-weight="bold" font-size="14.5" fill="#000">Time (s)</text><text transform="translate(416.7,234.4) rotate(-90)" font-family="Liberation Sans, sans-serif" font-weight="bold" font-size="14.5" fill="#000">F/F<tspan font-size="9.5" dy="3.4">0</tspan></text><path d="M451.00,295.19 L451.65,295.41 L452.30,295.31 L452.96,295.55 L453.61,295.70 L454.26,295.11 L454.93,294.76 L455.59,295.58 L456.25,295.30 L456.92,295.13 L457.58,295.97 L458.24,295.76 L458.91,296.10 L459.51,295.84 L460.12,295.92 L460.72,295.37 L461.32,295.68 L461.93,296.12 L462.53,295.94 L463.14,296.11 L463.74,296.12 L464.35,295.39 L464.98,295.87 L465.60,295.92 L466.23,295.59 L466.86,295.11 L467.49,295.88 L468.12,295.80 L468.74,296.06 L469.37,296.38 L470.00,296.35 L470.62,296.59 L471.24,296.08 L471.85,296.32 L472.47,296.02 L473.09,296.46 L473.71,296.62 L474.32,295.77 L474.94,295.39 L475.56,295.30 L476.18,296.16 L476.80,295.96 L477.42,296.10 L478.05,295.78 L478.67,295.87 L479.29,295.78 L479.92,295.69 L480.54,295.94 L481.16,296.06 L481.78,296.51 L482.41,296.48 L483.03,296.76 L483.64,296.82 L484.25,297.02 L484.86,296.74 L485.47,295.99 L486.08,296.46 L486.69,296.82 L487.30,296.94 L487.91,296.60 L488.53,296.61 L489.14,296.01 L489.75,296.46 L490.39,296.39 L491.02,296.01 L491.66,295.55 L492.30,296.28 L492.94,296.81 L493.58,296.00 L494.22,296.46 L494.86,296.22 L495.50,295.80 L496.13,295.76 L496.76,296.32 L497.39,296.72 L498.02,295.94 L498.65,296.24 L499.28,295.70 L499.91,296.25 L500.63,296.07 L501.34,296.64 L502.05,297.05 L502.77,296.69 L503.48,297.11 L504.12,296.49 L504.76,295.91 L505.40,296.25 L506.04,295.74 L506.68,295.69 L507.35,295.93 L508.01,296.29 L508.67,295.93 L509.34,295.61 L510.00,296.45 L510.63,296.22 L511.25,296.88 L511.88,297.15 L512.51,296.67 L513.13,296.53 L513.76,296.54 L514.41,296.71 L515.05,296.75 L515.70,296.73 L516.34,296.81 L516.99,297.24 L517.64,296.95 L518.34,296.71 L519.04,296.94 L519.74,296.48 L520.44,296.33 L521.15,297.07 L521.81,296.85 L522.47,296.75 L523.14,296.04 L523.80,296.15 L524.53,296.19 L525.27,295.42 L525.88,295.19 L526.13,294.70 L526.50,293.51 L527.01,293.40 L527.44,292.93 L527.93,292.81 L528.60,292.31 L529.52,292.56 L530.62,292.87 L531.80,292.28 L532.40,292.01 L533.00,292.65 L533.62,293.35 L534.23,292.87 L534.88,292.92 L535.52,293.15 L536.17,292.94 L536.81,292.91 L538.00,292.75 L539.08,292.50 L540.09,292.37 L541.05,291.69 L542.00,291.22 L542.93,291.19 L543.84,289.97 L544.72,289.83 L545.60,290.01 L546.45,289.88 L547.26,290.09 L548.10,291.22 L549.00,291.27 L549.89,291.33 L550.76,291.77 L551.81,292.38 L552.50,291.91 L553.20,291.97 L553.83,291.97 L554.45,292.57 L555.08,292.38 L555.83,292.75 L556.58,292.08 L557.33,291.92 L558.12,292.18 L558.91,292.55 L559.71,292.18 L560.47,291.69 L561.24,291.29 L562.00,291.55 L562.75,291.23 L563.49,291.77 L564.24,292.05 L565.00,291.35 L565.75,291.07 L566.51,291.52 L567.23,291.52 L567.96,291.68 L568.68,291.17 L569.32,290.66 L569.96,290.58 L570.60,291.12 L571.40,290.84 L572.21,290.81 L572.90,290.98 L573.59,291.13 L574.21,291.24 L574.82,291.97 L576.00,291.39 L577.11,290.67 L578.11,291.17 L579.05,291.05 L580.00,290.86 L580.94,289.71 L581.40,289.68 L581.86,289.45 L582.78,288.02 L583.70,287.95 L584.62,288.36 L585.53,288.79 L586.47,289.22 L587.50,289.38 L588.59,289.67 L589.15,289.67 L589.72,289.58 L590.34,290.24 L590.97,290.30 L591.68,291.02 L592.40,290.54 L593.28,291.42 L594.15,291.68 L594.82,292.11 L595.48,292.35 L596.15,292.53 L596.82,292.23 L597.48,291.44 L598.15,291.95 L599.02,291.43 L599.90,291.30 L600.58,291.41 L601.25,291.17 L601.81,290.60 L602.37,290.73 L602.92,290.15 L603.47,289.30 L604.14,288.65 L604.80,288.88 L605.55,288.54 L606.29,288.64 L607.08,288.18 L607.86,287.72 L608.48,287.90 L609.09,288.31 L609.70,287.72 L610.47,288.14 L611.23,288.47 L612.00,288.48 L612.62,288.48 L613.24,287.47 L613.86,287.69 L614.48,288.05 L615.10,287.23 L615.71,287.07 L616.33,286.96 L616.94,287.19 L617.56,287.16 L618.18,287.18 L618.79,287.53 L619.41,286.75 L620.02,286.41 L620.63,286.30 L621.24,286.22 L621.86,286.09 L622.47,287.09 L623.08,287.43 L623.68,286.66 L624.29,286.75 L624.89,286.55 L625.50,286.44 L626.20,286.40 L626.90,286.71 L627.60,286.77 L628.37,286.52 L629.14,286.17 L629.81,286.16 L630.48,285.91 L631.24,286.32 L632.00,286.73 L632.61,286.55 L633.22,286.11 L633.83,286.03 L634.47,286.25 L635.12,286.67 L635.76,287.11 L636.39,286.90 L637.01,287.33 L637.64,287.36 L638.47,287.25 L639.30,287.19 L639.97,287.42 L640.65,287.88 L641.21,287.90 L641.78,288.35 L642.85,288.65 L643.43,288.52 L644.00,288.91 L644.63,289.39 L645.25,288.98 L645.89,289.30 L646.53,289.57 L647.19,290.31 L647.85,290.82 L648.52,290.41 L649.20,290.87 L649.90,290.91 L650.60,290.28 L651.33,290.10 L652.05,289.55 L652.79,290.02 L653.52,290.00 L654.26,290.22 L655.00,290.15 L655.73,289.93 L656.46,289.85 L657.19,289.56 L657.92,288.82 L658.67,289.00 L659.43,288.35 L660.21,288.20 L661.00,288.86 L661.84,288.35 L662.68,288.17 L663.57,288.13 L664.45,289.08 L665.35,288.77 L666.24,288.46 L667.12,289.34 L668.00,288.96 L668.86,289.69 L669.73,289.90 L670.59,290.26 L671.45,290.63 L672.30,290.44 L673.15,290.66 L673.97,289.92 L674.80,290.50 L675.58,290.54 L676.36,290.87 L677.10,290.37 L677.85,290.95 L678.61,291.54 L679.37,290.86 L680.18,290.92 L681.00,291.31 L681.88,291.93 L682.76,291.63 L683.37,291.45 L683.99,291.51 L684.60,292.05 L685.25,292.55 L685.89,292.43 L686.54,292.41 L687.23,292.48 L687.91,292.51 L688.60,292.66 L689.33,292.36 L690.07,292.74 L690.80,293.54 L691.58,293.29 L692.35,293.59 L693.13,293.07 L693.73,293.45 L694.33,293.74 L694.93,293.80 L695.54,293.66 L696.15,293.57 L696.77,293.74 L697.38,294.15 L698.00,293.47 L698.64,293.09 L699.27,293.70 L699.91,294.23 L700.55,294.04 L701.21,293.87 L701.87,294.14 L702.53,293.65 L703.19,293.53 L703.85,293.40 L704.51,293.83 L705.17,293.74 L705.83,293.61 L706.47,294.13 L707.12,294.73 L707.76,294.27 L708.40,294.56 L709.01,294.39 L709.63,294.87 L710.24,294.82 L710.86,294.45 L711.45,294.25 L712.05,293.95 L712.65,294.39 L713.25,294.53 L714.04,294.42 L714.83,294.64 L715.62,294.76 L716.21,295.38 L716.81,294.97 L717.40,295.83 L718.00,295.68 L718.66,295.78 L719.31,295.72 L719.97,296.17 L720.62,296.41 L721.32,296.26 L722.01,296.13 L722.71,296.39 L723.40,296.73 L724.02,296.38 L724.64,296.64 L725.26,297.07 L725.88,296.73 L726.74,296.34 L727.60,296.20" stroke="#db5521" stroke-width="2.3" fill="none" stroke-linejoin="round" stroke-linecap="butt"/><path d="M451.00,296.20 L451.62,296.51 L452.24,296.76 L452.86,297.13 L453.48,297.01 L454.10,297.25 L454.72,295.95 L455.34,296.01 L455.96,296.82 L456.61,296.76 L457.25,297.15 L457.89,296.09 L458.54,296.14 L459.18,295.82 L459.82,296.15 L460.46,296.38 L461.11,295.60 L461.75,295.55 L462.39,295.64 L463.04,296.71 L463.67,297.01 L464.30,296.20 L464.94,296.82 L465.57,296.09 L466.20,296.49 L466.84,295.92 L467.47,295.44 L468.10,296.60 L468.73,296.13 L469.37,295.91 L470.00,297.03 L470.61,297.41 L471.23,296.67 L471.84,297.38 L472.45,297.05 L473.06,297.12 L473.68,296.39 L474.29,297.21 L474.90,297.21 L475.52,297.66 L476.13,297.77 L476.74,296.87 L477.34,296.51 L477.95,296.02 L478.55,295.74 L479.15,295.47 L479.75,295.71 L480.36,296.31 L480.96,295.64 L481.56,296.39 L482.16,296.21 L482.77,296.08 L483.37,296.82 L484.03,296.65 L484.69,296.29 L485.35,296.38 L486.02,296.77 L486.68,295.93 L487.34,296.98 L488.00,295.97 L488.00,296.50 L488.69,296.59 L489.66,296.80 L490.50,297.50 L491.04,299.11 L491.45,301.22 L491.80,303.00 L492.10,304.28 L492.34,305.22 L492.60,305.50 L492.92,304.98 L493.26,303.80 L493.60,302.00 L493.90,299.15 L494.20,295.69 L494.60,293.00 L495.15,291.80 L495.80,291.37 L496.50,291.00 L497.26,290.57 L498.07,290.20 L498.80,289.50 L499.41,288.39 L499.94,286.94 L500.40,285.00 L500.78,282.52 L501.10,279.54 L501.40,276.00 L501.70,271.70 L502.00,266.85 L502.30,262.00 L502.62,257.30 L502.95,252.59 L503.30,248.00 L503.68,243.52 L504.09,239.15 L504.50,235.00 L504.91,231.06 L505.33,227.33 L505.80,224.00 L506.33,221.07 L506.90,218.53 L507.50,216.50 L508.16,215.10 L508.86,214.21 L509.50,213.60 L510.09,213.27 L510.63,213.21 L511.00,213.20 L511.00,212.88 L511.53,212.75 L512.06,213.74 L512.59,213.37 L513.16,214.21 L513.73,214.50 L514.29,214.26 L514.86,215.14 L515.38,214.88 L515.90,215.63 L516.42,215.52 L516.94,215.67 L517.45,216.51 L517.96,217.83 L518.47,217.39 L518.98,217.53 L519.49,218.49 L520.00,219.72 L520.58,219.94 L521.16,219.94 L521.73,221.21 L522.31,220.38 L522.89,221.68 L523.47,221.55 L524.04,221.45 L524.62,221.59 L525.13,222.16 L525.64,223.56 L526.15,223.31 L526.66,224.10 L527.16,224.80 L527.67,224.80 L528.18,225.29 L528.68,224.82 L529.19,224.75 L529.69,225.15 L530.20,226.36 L530.74,226.65 L531.29,226.73 L531.83,227.40 L532.37,227.65 L532.92,227.65 L533.46,228.68 L534.00,229.17 L534.55,228.72 L535.09,229.22 L535.64,229.51 L536.19,230.42 L536.73,230.75 L537.28,230.25 L537.82,231.37 L538.37,230.52 L538.93,230.77 L539.48,231.63 L540.04,231.11 L540.60,231.59 L541.15,231.15 L541.71,232.20 L542.27,233.03 L542.83,233.24 L543.41,234.05 L543.99,233.59 L544.57,234.20 L545.15,234.47 L545.74,234.73 L546.32,234.79 L546.90,235.65 L547.50,236.48 L548.10,236.23 L548.70,236.62 L549.30,235.90 L549.90,236.88 L550.50,237.44 L551.06,238.53 L551.62,238.95 L552.18,238.37 L552.75,238.44 L553.31,239.17 L553.87,238.55 L554.40,239.19 L554.92,239.14 L555.45,239.20 L555.97,239.29 L556.50,240.78 L557.03,240.54 L557.62,240.81 L558.22,241.37 L558.81,242.68 L559.41,242.09 L560.00,242.62 L560.55,243.15 L561.11,244.14 L561.66,244.64 L562.21,245.10 L562.76,244.40 L563.40,244.40 L564.04,244.42 L564.68,245.48 L565.32,246.27 L565.92,245.29 L566.52,244.94 L567.11,244.96 L567.71,245.08 L568.28,245.70 L568.86,246.31 L569.43,246.13 L570.00,245.68 L570.70,246.40 L571.40,246.83 L572.10,247.55 L572.73,248.75 L573.37,249.04 L574.01,249.01 L574.64,249.34 L575.28,249.76 L575.91,249.01 L576.61,250.31 L577.30,250.91 L578.00,251.54 L578.57,251.81 L579.14,251.34 L579.72,251.25 L580.29,250.79 L580.89,251.66 L581.49,251.19 L582.09,251.10 L582.69,251.44 L583.33,251.66 L583.96,252.22 L584.59,252.11 L585.23,252.09 L585.89,252.47 L586.56,252.70 L587.23,253.40 L587.90,253.27 L588.49,254.79 L589.07,255.18 L589.66,254.62 L590.24,254.62 L590.83,254.89 L591.45,255.13 L592.08,254.91 L592.71,256.19 L593.34,257.18 L593.96,256.81 L594.59,256.73 L595.21,256.06 L595.84,255.84 L596.47,256.24 L597.09,256.39 L597.67,257.55 L598.26,257.01 L598.84,256.57 L599.42,258.10 L600.00,258.18 L600.64,257.63 L601.29,258.16 L601.93,257.58 L602.58,258.29 L603.18,259.52 L603.77,260.01 L604.37,260.04 L604.96,259.35 L605.54,259.27 L606.13,258.96 L606.71,259.97 L607.29,260.12 L607.89,260.74 L608.49,260.32 L609.10,260.01 L609.70,261.01 L610.34,261.93 L610.98,262.25 L611.61,262.42 L612.25,262.63 L612.90,262.71 L613.56,261.94 L614.21,262.18 L614.86,262.11 L615.51,261.60 L616.16,261.45 L616.82,261.93 L617.47,262.24 L618.10,263.27 L618.73,264.36 L619.37,264.08 L620.00,264.93 L620.61,265.51 L621.21,265.84 L621.82,265.02 L622.42,264.44 L623.01,264.23 L623.60,264.15 L624.19,264.20 L624.78,265.06 L625.37,266.07 L625.95,266.54 L626.54,266.20 L627.12,266.42 L627.72,266.89 L628.31,265.91 L628.91,266.55 L629.50,267.39 L630.11,267.69 L630.72,267.88 L631.32,267.57 L631.93,266.97 L632.55,267.88 L633.16,267.61 L633.77,268.42 L634.39,269.23 L635.00,268.69 L635.62,268.53 L636.23,269.53 L636.85,269.72 L637.46,268.90 L638.07,268.49 L638.69,268.42 L639.30,269.82 L639.91,270.40 L640.51,269.58 L641.12,270.46 L641.72,271.25 L642.33,271.11 L642.93,270.55 L643.53,270.69 L644.14,270.07 L644.74,269.59 L645.35,271.13 L645.95,271.38 L646.56,271.33 L647.17,272.09 L647.78,271.63 L648.39,272.23 L649.00,272.50 L649.62,271.57 L650.24,271.23 L650.86,271.17 L651.48,271.09 L652.11,271.71 L652.73,271.47 L653.36,271.67 L653.99,271.30 L654.62,272.55 L655.24,272.22 L655.87,272.28 L656.50,272.58 L657.12,273.36 L657.75,272.94 L658.38,273.67 L659.00,273.34 L659.63,273.31 L660.25,273.35 L660.88,272.52 L661.50,272.94 L662.13,272.77 L662.75,272.44 L663.38,273.78 L664.01,273.40 L664.63,273.84 L665.24,274.59 L665.86,274.74 L666.48,274.48 L667.09,274.77 L667.69,275.06 L668.30,275.69 L668.90,274.86 L669.67,275.38 L670.43,275.17 L671.20,275.21 L671.93,276.22 L672.67,276.33 L673.41,276.58 L674.15,277.15 L674.89,277.80 L675.64,277.37 L676.23,277.51 L676.82,277.45 L677.41,277.50 L678.00,277.91 L678.64,277.75 L679.29,277.88 L679.93,277.91 L680.57,278.83 L681.25,278.92 L681.93,279.34 L682.60,279.74 L683.28,278.77 L683.96,278.89 L684.64,279.70 L685.32,279.98 L686.00,278.92 L686.65,278.41 L687.30,278.80 L687.95,278.38 L688.60,278.53 L689.20,278.35 L689.81,279.38 L690.41,280.16 L691.01,280.80 L691.78,279.85 L692.55,280.45 L693.31,280.71 L694.08,279.97 L694.84,280.99 L695.61,281.71 L696.21,280.76 L696.80,281.65 L697.40,281.14 L698.00,281.09 L698.64,282.03 L699.27,282.26 L699.91,281.21 L700.55,281.23 L701.21,281.44 L701.87,281.27 L702.53,280.98 L703.19,281.11 L703.85,281.95 L704.51,281.15 L705.17,281.77 L705.83,281.92 L706.47,281.29 L707.12,281.59 L707.76,282.32 L708.40,282.53 L709.01,281.89 L709.63,283.27 L710.24,283.67 L710.86,284.24 L711.45,283.03 L712.05,282.76 L712.65,282.28 L713.25,283.42 L713.84,283.13 L714.43,282.78 L715.03,283.19 L715.62,284.33 L716.21,284.78 L716.81,284.06 L717.40,283.55 L718.00,284.73 L718.66,284.75 L719.31,285.05 L719.97,284.16 L720.62,283.71 L721.32,284.68 L722.01,284.75 L722.71,284.21 L723.40,285.55 L724.02,285.72 L724.64,286.16 L725.26,285.14 L725.88,286.07 L726.74,285.20 L727.60,286.28" stroke="#33844a" stroke-width="2.5" fill="none" stroke-linejoin="round" stroke-linecap="butt"/><path d="M451.00,294.30 L451.70,294.32 L452.41,294.34 L453.11,294.36 L453.81,294.37 L454.52,294.39 L455.22,294.41 L455.93,294.43 L456.63,294.45 L457.33,294.47 L458.04,294.49 L458.74,294.50 L459.44,294.52 L460.15,294.54 L460.85,294.56 L461.56,294.58 L462.26,294.60 L462.96,294.61 L463.67,294.63 L464.37,294.65 L465.07,294.67 L465.78,294.69 L466.48,294.71 L467.19,294.73 L467.89,294.74 L468.59,294.76 L469.30,294.78 L470.00,294.80 L470.71,294.82 L471.41,294.84 L472.12,294.86 L472.83,294.89 L473.54,294.91 L474.24,294.93 L474.95,294.95 L475.66,294.97 L476.36,294.99 L477.07,295.01 L477.78,295.04 L478.49,295.06 L479.19,295.08 L479.90,295.10 L480.61,295.12 L481.31,295.14 L482.02,295.16 L482.73,295.19 L483.44,295.21 L484.14,295.23 L484.85,295.25 L485.56,295.27 L486.26,295.29 L486.97,295.31 L487.68,295.34 L488.39,295.36 L489.09,295.38 L489.80,295.40 L489.80,295.40 L490.60,294.00 L491.20,260.00 L491.80,242.00 L493.20,239.50 L493.80,220.00 L494.20,200.00 L494.60,185.00 L495.20,168.00 L496.20,158.00 L497.80,153.50 L500.20,151.80 L500.20,151.80 L502.49,153.31 L505.76,155.46 L509.55,157.98 L513.40,160.60 L517.31,163.33 L521.48,166.29 L525.76,169.35 L530.00,172.40 L534.27,175.50 L538.61,178.68 L542.85,181.77 L546.80,184.60 L550.33,187.09 L553.57,189.34 L556.73,191.47 L560.00,193.60 L563.45,195.75 L566.96,197.86 L570.49,199.94 L574.00,202.00 L577.50,204.05 L581.01,206.09 L584.48,208.08 L587.90,210.00 L591.19,211.82 L594.40,213.55 L597.63,215.26 L601.00,217.00 L604.60,218.78 L608.34,220.58 L612.09,222.39 L615.70,224.20 L619.09,226.01 L622.36,227.83 L625.62,229.66 L629.00,231.50 L632.59,233.38 L636.29,235.30 L640.00,237.19 L643.60,239.00 L647.01,240.70 L650.31,242.34 L653.60,243.93 L657.00,245.50 L660.57,247.08 L664.24,248.65 L667.92,250.17 L671.50,251.60 L674.93,252.92 L678.26,254.15 L681.59,255.33 L685.00,256.50 L688.53,257.64 L692.14,258.74 L695.75,259.85 L699.30,261.00 L702.75,262.21 L706.13,263.44 L709.53,264.71 L713.00,266.00 L716.93,267.45 L721.16,269.01 L724.96,270.42 L727.60,271.40" stroke="#000" stroke-width="2.6" fill="none" stroke-linejoin="round" stroke-linecap="butt"/><path d="M640.8,130.8 L660.5,130.8" stroke="#000" stroke-width="2.8"/><path d="M640.8,152.1 L660.5,152.1" stroke="#33844a" stroke-width="2.8"/><path d="M640.8,173.3 L660.5,173.3" stroke="#db5521" stroke-width="2.8"/><text x="671.3" y="135.5" font-family="Liberation Sans, sans-serif" font-size="14.5" fill="#000">Region 1</text><text x="671.3" y="156.6" font-family="Liberation Sans, sans-serif" font-size="14.5" fill="#000">Region 2</text><text x="671.3" y="178.1" font-family="Liberation Sans, sans-serif" font-size="14.5" fill="#000">Region 3</text><path d="M518.8,273.0 L526.6,282.7" stroke="#5aa0e6" stroke-width="2.0"/><path d="M529.7,286.6 L524.2,284.6 L528.9,280.8 Z" fill="#5aa0e6"/><path d="M536.9,269.8 L544.5,279.0" stroke="#5aa0e6" stroke-width="2.0"/><path d="M547.7,282.9 L542.2,281.0 L546.8,277.1 Z" fill="#5aa0e6"/><path d="M574.3,269.8 L581.7,279.0" stroke="#5aa0e6" stroke-width="2.0"/><path d="M584.8,282.9 L579.3,280.9 L584.0,277.1 Z" fill="#5aa0e6"/></svg></body></html>
